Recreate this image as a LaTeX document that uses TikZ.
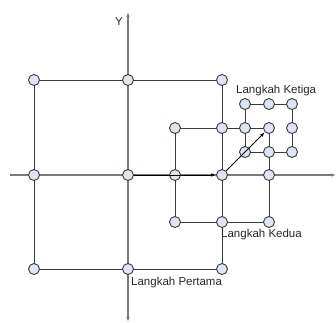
\documentclass[tikz,border=0pt]{standalone}
\usepackage{fontspec}
\setmainfont{Liberation Sans}
\usetikzlibrary{arrows.meta}
\definecolor{ptfill}{HTML}{DDE5F2}
\definecolor{gridline}{HTML}{3A3A3A}
\definecolor{axisline}{HTML}{7A7A7A}
\tikzset{
  pt/.style={circle,draw=gridline,fill=ptfill,line width=0.9pt,minimum size=11pt,inner sep=0pt},
  gridedge/.style={draw=gridline,line width=0.9pt},
  axis/.style={draw=axisline,line width=1.3pt},
  tip/.style={-{Latex[length=5pt,width=3.5pt]}},
  move/.style={draw=black,line width=1pt,-{Latex[length=5pt,width=3.5pt]}},
  lbl/.style={font=\fontsize{11.5pt}{13pt}\selectfont,text=black!85,inner sep=0pt}
}
\begin{document}
\begin{tikzpicture}[x=1pt,y=-1pt]
\useasboundingbox (0,0) rectangle (336,322);
% axis ends
\coordinate (xl) at (10,175);
\coordinate (xr) at (336,175);
\coordinate (yt) at (128,12);
\coordinate (yb) at (128,322);
\draw[axis] (xl) -- (128,175);
\draw[axis,tip] (128,175) -- (xr);
\draw[axis,tip] (128,175) -- (yt);
\draw[axis,tip] (128,175) -- (yb);
% points: first step grid
\path (34,80) coordinate (a1) (128,80) coordinate (a2) (222,80) coordinate (a3)
      (34,175) coordinate (a4) (128,175) coordinate (a5) (222,175) coordinate (a6)
      (34,269) coordinate (a7) (128,269) coordinate (a8) (222,269) coordinate (a9);
% second step grid
\path (175,128) coordinate (b1) (222,128) coordinate (b2) (269,128) coordinate (b3)
      (175,175) coordinate (b4) (269,175) coordinate (b6)
      (175,222) coordinate (b7) (222,222) coordinate (b8) (269,222) coordinate (b9);
% third step grid
\path (245,104) coordinate (c1) (269,104) coordinate (c2) (292,104) coordinate (c3)
      (245,128) coordinate (c4) (292,128) coordinate (c6)
      (245,152) coordinate (c7) (269,152) coordinate (c8) (292,152) coordinate (c9);
% grid edges
\draw[gridedge] (a1) -- (a3) -- (a9) -- (a7) -- cycle;
\draw[gridedge] (b1) -- (b3) -- (b9) -- (b7) -- cycle;
\draw[gridedge] (c1) -- (c3) -- (c9) -- (c7) -- cycle;
% circles
\foreach \p in {a1,a2,a3,a4,a5,a6,a7,a8,a9,b1,b2,b3,b4,b6,b7,b8,b9,c1,c2,c3,c4,c6,c7,c8,c9}
  \node[pt] (n\p) at (\p) {};
% moves
\draw[move] (na5) -- (na6);
\draw[move] (na6) -- (nb3);
% labels
\node[lbl] (ly) at (119,22) {Y};
\node[lbl,anchor=west] (l3) at (236,91) {Langkah Ketiga};
\node[lbl,anchor=west] (l2) at (221,235) {Langkah Kedua};
\node[lbl,anchor=west] (l1) at (131,283) {Langkah Pertama};
\end{tikzpicture}
\end{document}
